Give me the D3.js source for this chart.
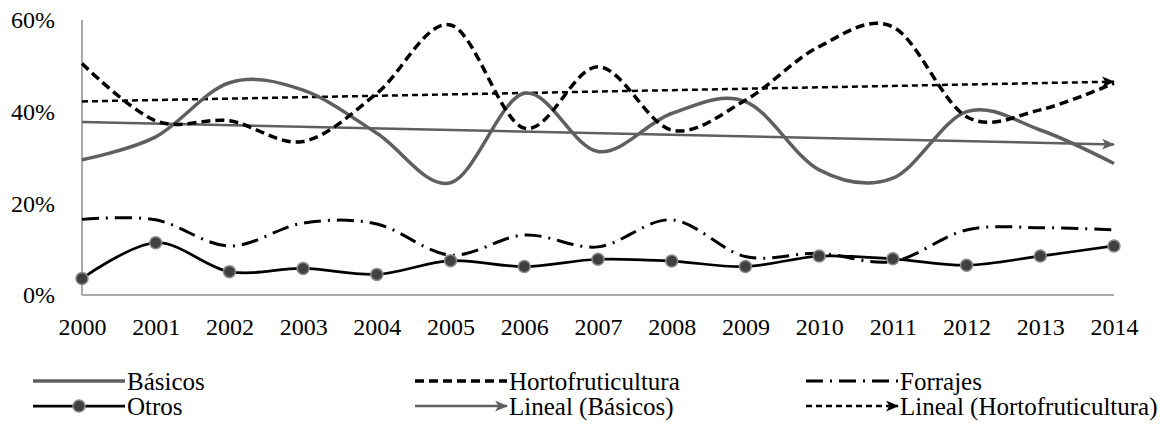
<!DOCTYPE html>
<html>
<head>
<meta charset="utf-8">
<script src="https://cdn.jsdelivr.net/npm/d3@7"></script>
<style>
  html, body { margin: 0; padding: 0; background: #fff; }
</style>
</head>
<body>
<svg id="chart" width="1163" height="427"></svg>
<script>
// Years on the horizontal axis
const years = [2000, 2001, 2002, 2003, 2004, 2005, 2006, 2007, 2008, 2009, 2010, 2011, 2012, 2013, 2014];

// Share of each crop group (%)
const basicos           = [29.5, 34.5, 46.3, 44.7, 35.3, 24.5, 44.0, 31.3, 39.6, 42.2, 27.3, 25.5, 40.0, 36.0, 28.7];
const hortofruticultura = [50.5, 38.0, 38.0, 33.5, 44.0, 58.9, 36.4, 49.8, 36.0, 42.5, 54.2, 58.5, 38.9, 40.4, 46.2];
const forrajes          = [16.5, 16.4, 10.7, 15.7, 15.5, 8.7, 13.1, 10.5, 16.4, 8.4, 9.1, 7.3, 14.2, 14.7, 14.2];
const otros             = [3.6, 11.4, 5.1, 5.8, 4.5, 7.5, 6.2, 7.8, 7.4, 6.2, 8.5, 7.9, 6.5, 8.5, 10.7];

// Y axis ticks
const yTicks = [0, 20, 40, 60];

const svg = d3.select("#chart");

const plot = { left: 82, right: 1114, top: 20, bottom: 295 };

const x = d3.scalePoint().domain(years).range([plot.left, plot.right]);
const y = d3.scaleLinear().domain([0, 60]).range([plot.bottom, plot.top]);

const FONT = '"Liberation Serif"';
const GRAY = "#5f5f5f";
const AXIS = "#8c8c8c";
const TICK_FONT = 24;
const LEGEND_FONT = 25;

// Axes
const gx = svg.append("g").attr("transform", `translate(0,${plot.bottom})`)
  .call(d3.axisBottom(x).tickSize(0).tickPadding(0));
gx.attr("font-family", null).attr("font-size", null);
gx.select(".domain").attr("stroke", AXIS).attr("stroke-width", 1.5).attr("d", `M${plot.left},0H${plot.right}`);
gx.selectAll("text")
  .style("font-family", FONT).style("font-size", TICK_FONT + "px")
  .attr("fill", "#000").attr("y", 40).attr("dy", 0);

const gy = svg.append("g").attr("transform", `translate(${plot.left},0)`)
  .call(d3.axisLeft(y).tickValues(yTicks).tickSize(0).tickPadding(27).tickFormat(d => d + "%"));
gy.attr("font-family", null).attr("font-size", null);
gy.select(".domain").attr("stroke", AXIS).attr("stroke-width", 1.5).attr("d", `M0,${plot.top}V${plot.bottom}`);
gy.selectAll("text")
  .style("font-family", FONT).style("font-size", TICK_FONT + "px")
  .attr("fill", "#000");

// Arrow heads for trend lines
const defs = svg.append("defs");
function arrow(id, color) {
  defs.append("marker")
    .attr("id", id)
    .attr("viewBox", "0 0 12 10")
    .attr("refX", 11).attr("refY", 5)
    .attr("markerWidth", 13).attr("markerHeight", 11)
    .attr("markerUnits", "userSpaceOnUse")
    .attr("orient", "auto")
    .append("path")
    .attr("d", "M0,0 L12,5 L0,10 L3,5 Z")
    .attr("fill", color);
}
arrow("arrGray", GRAY);
arrow("arrBlack", "#000");

// Least-squares trend of a series over the year index
function trend(values) {
  const n = values.length;
  const xs = d3.range(n);
  const mx = d3.mean(xs), my = d3.mean(values);
  const sxy = d3.sum(xs, (xi, i) => (xi - mx) * (values[i] - my));
  const sxx = d3.sum(xs, xi => (xi - mx) ** 2);
  const b = sxy / sxx, a = my - b * mx;
  return [[years[0], a], [years[n - 1], a + b * (n - 1)]];
}

const smooth = d3.line()
  .x((d, i) => x(years[i]))
  .y(d => y(d))
  .curve(d3.curveCatmullRom.alpha(0));

const straight = d3.line().x(d => x(d[0])).y(d => y(d[1]));

// Trend lines
svg.append("path").attr("d", straight(trend(basicos)))
  .attr("fill", "none").attr("stroke", GRAY).attr("stroke-width", 2.5)
  .attr("marker-end", "url(#arrGray)");
svg.append("path").attr("d", straight(trend(hortofruticultura)))
  .attr("fill", "none").attr("stroke", "#000").attr("stroke-width", 2.5)
  .attr("stroke-dasharray", "6,4")
  .attr("marker-end", "url(#arrBlack)");

// Series lines
svg.append("path").attr("d", smooth(basicos))
  .attr("fill", "none").attr("stroke", GRAY).attr("stroke-width", 3.5);
svg.append("path").attr("d", smooth(hortofruticultura))
  .attr("fill", "none").attr("stroke", "#000").attr("stroke-width", 3.5)
  .attr("stroke-dasharray", "9,5");
svg.append("path").attr("d", smooth(forrajes))
  .attr("fill", "none").attr("stroke", "#000").attr("stroke-width", 3)
  .attr("stroke-dasharray", "17,7,2,7");
svg.append("path").attr("d", smooth(otros))
  .attr("fill", "none").attr("stroke", "#000").attr("stroke-width", 2.75);

svg.append("g").selectAll("circle").data(otros).join("circle")
  .attr("cx", (d, i) => x(years[i]))
  .attr("cy", d => y(d))
  .attr("r", 6)
  .attr("fill", "#404040")
  .attr("stroke", "#8c8c8c")
  .attr("stroke-width", 1.5);

// Legend
const legendItems = [
  { label: "Básicos", col: 0, row: 0, stroke: GRAY, width: 3.5, dash: null },
  { label: "Hortofruticultura", col: 1, row: 0, stroke: "#000", width: 3.5, dash: "9,5" },
  { label: "Forrajes", col: 2, row: 0, stroke: "#000", width: 3, dash: "17,7,2,7" },
  { label: "Otros", col: 0, row: 1, stroke: "#000", width: 2.75, dash: null, dot: true },
  { label: "Lineal (Básicos)", col: 1, row: 1, stroke: GRAY, width: 2.5, dash: null, arrow: "arrGray" },
  { label: "Lineal (Hortofruticultura)", col: 2, row: 1, stroke: "#000", width: 2.5, dash: "6,4", arrow: "arrBlack" }
];
const colX = [33, 415, 806];
const rowY = [381, 406];
const sampleLen = 92;

const lg = svg.append("g").selectAll("g").data(legendItems).join("g")
  .attr("transform", d => `translate(${colX[d.col]},${rowY[d.row]})`);
lg.append("line")
  .attr("x1", 0).attr("x2", sampleLen).attr("y1", 0).attr("y2", 0)
  .attr("stroke", d => d.stroke).attr("stroke-width", d => d.width)
  .attr("stroke-dasharray", d => d.dash)
  .attr("marker-end", d => d.arrow ? `url(#${d.arrow})` : null);
lg.filter(d => d.dot).append("circle")
  .attr("cx", sampleLen / 2).attr("cy", 0).attr("r", 6)
  .attr("fill", "#404040").attr("stroke", "#8c8c8c").attr("stroke-width", 1.5);
lg.append("text")
  .attr("x", sampleLen + 2).attr("y", 0).attr("dy", "0.35em")
  .style("font-family", FONT).style("font-size", LEGEND_FONT + "px")
  .text(d => d.label);
</script>
</body>
</html>
